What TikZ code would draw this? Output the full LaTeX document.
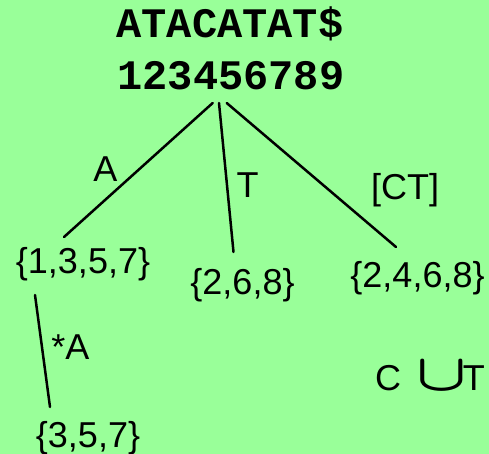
\documentclass[tikz,border=0pt]{standalone}
\usepackage{graphicx}
\usepackage{fontspec}
\setmainfont{Liberation Sans}
\setmonofont{Liberation Mono}
\definecolor{bggreen}{HTML}{99FF99}
\begin{document}
\begin{tikzpicture}[x=1pt,y=-1pt,
  lbl/.style={inner sep=0pt,anchor=base,font=\fontsize{36}{40}\selectfont},
  seq/.style={inner sep=0pt,anchor=base,font=\ttfamily\bfseries\fontsize{42}{46}\selectfont},
  edge/.style={line width=2.5pt,line cap=round}]
\fill[bggreen] (0,0) rectangle (489,454);
\useasboundingbox (0,0) rectangle (489,454);
\node[seq] (s) at (230,38) {ATACATAT\$};
\node[seq] (n) at (231,90) {123456789};
\node[lbl] (la) at (105.5,182) {A};
\node[lbl] (lt) at (247.5,197) {T};
\node[lbl] (lct) at (405,200) {[CT]};
\node[lbl] (s1) at (83,273) {\{1,3,5,7\}};
\node[lbl] (s2) at (242.5,294) {\{2,6,8\}};
\node[lbl] (s3) at (417.5,287) {\{2,4,6,8\}};
\node[lbl] (lsa) at (70.5,359) {*A};
\node[lbl] (s4) at (88,447) {\{3,5,7\}};
\node[lbl,anchor=base west] (cu) at (375,390) {C\hspace{15pt}\scalebox{6.6}[5.2]{\fontsize{10}{12}\selectfont\boldmath$\cup$}\hspace{-4pt}T};
\coordinate (r1) at (212.7,103);
\coordinate (r2) at (219,103);
\coordinate (r3) at (226.7,103);
\coordinate (e1) at (64,237);
\coordinate (e2) at (233.5,252);
\coordinate (e3) at (396,247);
\coordinate (f1) at (35,295);
\coordinate (f2) at (50,407);
\draw[edge] (r1) -- (e1);
\draw[edge] (r2) -- (e2);
\draw[edge] (r3) -- (e3);
\draw[edge] (f1) -- (f2);
\end{tikzpicture}
\end{document}
